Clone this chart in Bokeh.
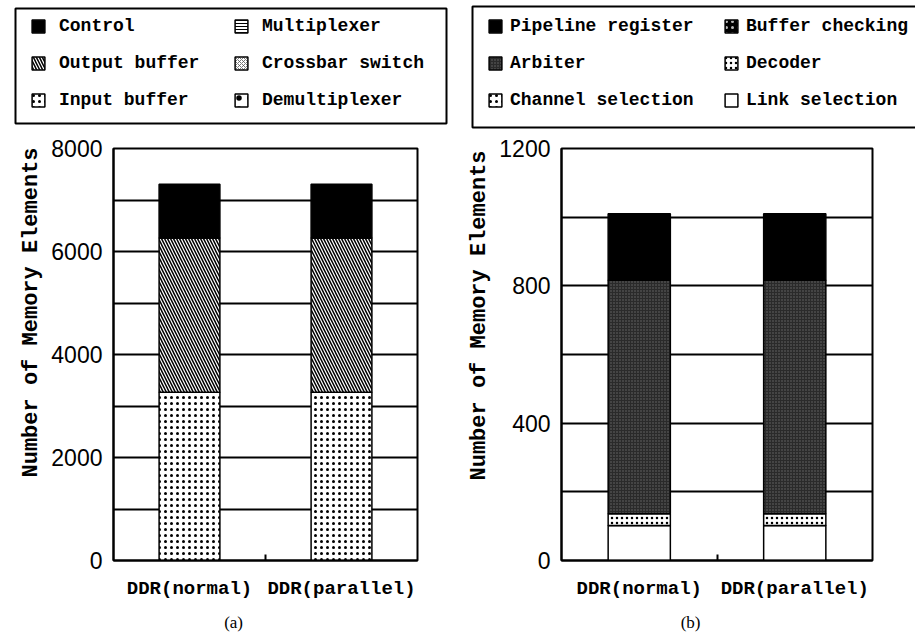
from bokeh.plotting import figure
from bokeh.models import (Range1d, FixedTicker, SingleIntervalTicker, Legend,
                          LegendItem, Title, ColumnDataSource, BoxAnnotation, LinearAxis)
from bokeh.layouts import row, column
from bokeh.transform import stack
from bokeh.embed import file_html
from bokeh.resources import INLINE

# ---------------- data ----------------
groups = ["DDR(normal)", "DDR(parallel)"]
group_pos = [0.5, 1.5]

# (a) router components
a_input_buffer = [3265, 3265]
a_demultiplexer = [0, 0]
a_crossbar_switch = [0, 0]
a_output_buffer = [2995, 2995]
a_multiplexer = [0, 0]
a_control = [1045, 1045]
a_stack_order = ["Input buffer", "Demultiplexer", "Crossbar switch",
                 "Output buffer", "Multiplexer", "Control"]
a_legend_cols = [["Control", "Output buffer", "Input buffer"],
                 ["Multiplexer", "Crossbar switch", "Demultiplexer"]]
a_y_ticks_interval = 2000
a_y_grid_interval = 1000
a_y_max = 8000

# (b) control components
b_link_selection = [102, 102]
b_channel_selection = [0, 0]
b_decoder = [34, 34]
b_arbiter = [680, 680]
b_buffer_checking = [0, 0]
b_pipeline_register = [194, 194]
b_stack_order = ["Link selection", "Channel selection", "Decoder",
                 "Arbiter", "Buffer checking", "Pipeline register"]
b_legend_cols = [["Pipeline register", "Arbiter", "Channel selection"],
                 ["Buffer checking", "Decoder", "Link selection"]]
b_y_ticks_interval = 400
b_y_grid_interval = 200
b_y_max = 1200

y_label = "Number of Memory Elements"

# ---------------- styles ----------------
A_STYLE = {
    "Control": dict(fill_color="black"),
    "Multiplexer": dict(fill_color="white", hatch_pattern="horizontal_line",
                        hatch_color="black", hatch_scale=3, hatch_weight=1),
    "Output buffer": dict(fill_color="white", hatch_pattern="left_diagonal_line",
                          hatch_color="black", hatch_scale=6, hatch_weight=1.5),
    "Crossbar switch": dict(fill_color="white", hatch_pattern="diagonal_cross",
                            hatch_color="#555555", hatch_scale=4, hatch_weight=0.8),
    "Input buffer": dict(fill_color="white", hatch_pattern="dot",
                         hatch_color="black", hatch_scale=6, hatch_weight=0.7),
    "Demultiplexer": dict(fill_color="white", hatch_pattern="dot",
                          hatch_color="black", hatch_scale=11, hatch_weight=1),
}
B_STYLE = {
    "Pipeline register": dict(fill_color="black"),
    "Buffer checking": dict(fill_color="black", hatch_pattern="dot",
                            hatch_color="#bbbbbb", hatch_scale=6, hatch_weight=1),
    "Arbiter": dict(fill_color="#2a2a2a", hatch_pattern="dot",
                    hatch_color="#6a6a6a", hatch_scale=3, hatch_weight=0.6),
    "Decoder": dict(fill_color="white", hatch_pattern="dot",
                    hatch_color="black", hatch_scale=5, hatch_weight=1.2),
    "Channel selection": dict(fill_color="white", hatch_pattern="dot",
                              hatch_color="black", hatch_scale=6, hatch_weight=0.8),
    "Link selection": dict(fill_color="white"),
}

MONO = "Liberation Mono"


def draw_stack(p, src, order, styles, visible=True):
    rs = {}
    for i, name in enumerate(order):
        rs[name] = p.vbar(x="x", width=0.4, bottom=stack(*order[:i]),
                          top=stack(*order[:i + 1]), source=src, visible=visible,
                          line_color="black", line_width=1.5, **styles[name])
    return rs


def chart(width, height, mbl, mbr, mbt, mbb, ymax, major, minor, src, order, styles,
          caption, caption_pos, ylab_offset):
    p = figure(width=width, height=height, x_range=Range1d(0, 2), y_range=Range1d(0, ymax),
               toolbar_location=None, output_backend="svg",
               min_border_left=mbl, min_border_right=mbr,
               min_border_top=mbt, min_border_bottom=mbb)
    draw_stack(p, src, order, styles)
    p.outline_line_color = "black"
    p.outline_line_width = 2
    p.outline_line_alpha = 1

    p.xgrid.visible = False
    p.ygrid.ticker = SingleIntervalTicker(interval=minor)
    p.ygrid.grid_line_color = "black"
    p.ygrid.grid_line_width = 2
    p.ygrid.grid_line_alpha = 1

    xa = p.xaxis[0]
    xa.ticker = FixedTicker(ticks=group_pos, minor_ticks=[(group_pos[0] + group_pos[1]) / 2])
    xa.major_label_overrides = dict(zip(group_pos, groups))
    xa.major_tick_in = 0
    xa.major_tick_out = 0
    xa.minor_tick_in = 6
    xa.minor_tick_out = 0
    xa.minor_tick_line_width = 2
    xa.minor_tick_line_color = "black"
    xa.axis_line_width = 2
    xa.axis_line_color = "black"
    xa.major_label_standoff = 17
    xa.major_label_text_font = MONO
    xa.major_label_text_font_style = "bold"
    xa.major_label_text_font_size = "19px"
    xa.major_label_text_color = "black"

    # caption "(a)" / "(b)" as an extra, line-less axis below the category labels
    cap = LinearAxis(ticker=FixedTicker(ticks=[caption_pos]),
                     major_label_overrides={caption_pos: caption},
                     axis_line_color=None, major_tick_line_color=None,
                     minor_tick_line_color=None, major_tick_in=0, major_tick_out=0,
                     minor_tick_in=0, minor_tick_out=0, major_label_standoff=10,
                     major_label_text_font="Liberation Serif",
                     major_label_text_font_style="normal",
                     major_label_text_font_size="17px", major_label_text_color="black")
    p.add_layout(cap, "below")

    ya = p.yaxis[0]
    ya.ticker = SingleIntervalTicker(interval=major)
    ya.major_tick_in = 0
    ya.major_tick_out = 0
    ya.minor_tick_in = 0
    ya.minor_tick_out = 0
    ya.axis_line_width = 2
    ya.axis_line_color = "black"
    ya.major_label_standoff = 11
    ya.major_label_text_font = "Liberation Sans"
    ya.major_label_text_font_size = "23px"
    ya.major_label_text_color = "black"

    p.add_layout(Title(text=y_label, align="left", offset=ylab_offset, standoff=10,
                       text_font=MONO, text_font_style="bold", text_font_size="22px",
                       text_color="black"), "left")
    return p


src_a = ColumnDataSource(data={
    "x": group_pos,
    "Input buffer": a_input_buffer,
    "Demultiplexer": a_demultiplexer,
    "Crossbar switch": a_crossbar_switch,
    "Output buffer": a_output_buffer,
    "Multiplexer": a_multiplexer,
    "Control": a_control,
})
src_b = ColumnDataSource(data={
    "x": group_pos,
    "Link selection": b_link_selection,
    "Channel selection": b_channel_selection,
    "Decoder": b_decoder,
    "Arbiter": b_arbiter,
    "Buffer checking": b_buffer_checking,
    "Pipeline register": b_pipeline_register,
})

# ---------------- legend strip (one figure, frame = whole strip) ----------------
LEG_W, LEG_H = 915, 130
leg = figure(width=LEG_W, height=LEG_H, x_range=Range1d(0, 2), y_range=Range1d(0, 1),
             x_axis_location=None, y_axis_location=None, toolbar_location=None,
             output_backend="svg", min_border=0)
leg.grid.visible = False
leg.outline_line_color = None

leg_r_a = draw_stack(leg, src_a, a_stack_order, A_STYLE, visible=False)
leg_r_b = draw_stack(leg, src_b, b_stack_order, B_STYLE, visible=False)


def add_box(left, right, top, bottom):
    leg.add_layout(BoxAnnotation(left=left, right=right, top=top, bottom=bottom,
                                 left_units="screen", right_units="screen",
                                 top_units="screen", bottom_units="screen",
                                 fill_alpha=0, line_color="black", line_width=2,
                                 line_alpha=1))


def add_legend(names, rs, x, y, standoff):
    items = [LegendItem(label=n, renderers=[rs[n]]) for n in names]
    lg = Legend(items=items, location=(x, y), orientation="vertical",
                border_line_color=None, background_fill_alpha=0, padding=0, margin=0,
                spacing=17, glyph_width=16, glyph_height=16,
                label_standoff=standoff, label_height=16,
                inactive_fill_alpha=0,
                label_text_font=MONO, label_text_font_style="bold",
                label_text_font_size="18px", label_text_color="black")
    leg.add_layout(lg, "center")


add_box(15, 446, 122, 7)
add_box(472, 925, 124, 3)
add_legend(a_legend_cols[0], leg_r_a, 30, 20, 13)
add_legend(a_legend_cols[1], leg_r_a, 233, 20, 13)
add_legend(b_legend_cols[0], leg_r_b, 487, 20, 7)
add_legend(b_legend_cols[1], leg_r_b, 723, 20, 7)

chart_a = chart(459, 504, 113, 42, 18, 74, a_y_max, a_y_ticks_interval, a_y_grid_interval,
                src_a, a_stack_order, A_STYLE, "(a)", 0.79, 83)
chart_b = chart(456, 504, 101, 43, 18, 74, b_y_max, b_y_ticks_interval, b_y_grid_interval,
                src_b, b_stack_order, B_STYLE, "(b)", 0.83, 80)

layout = column(leg, row(chart_a, chart_b))

open("out.html", "w").write(file_html(layout, INLINE))
